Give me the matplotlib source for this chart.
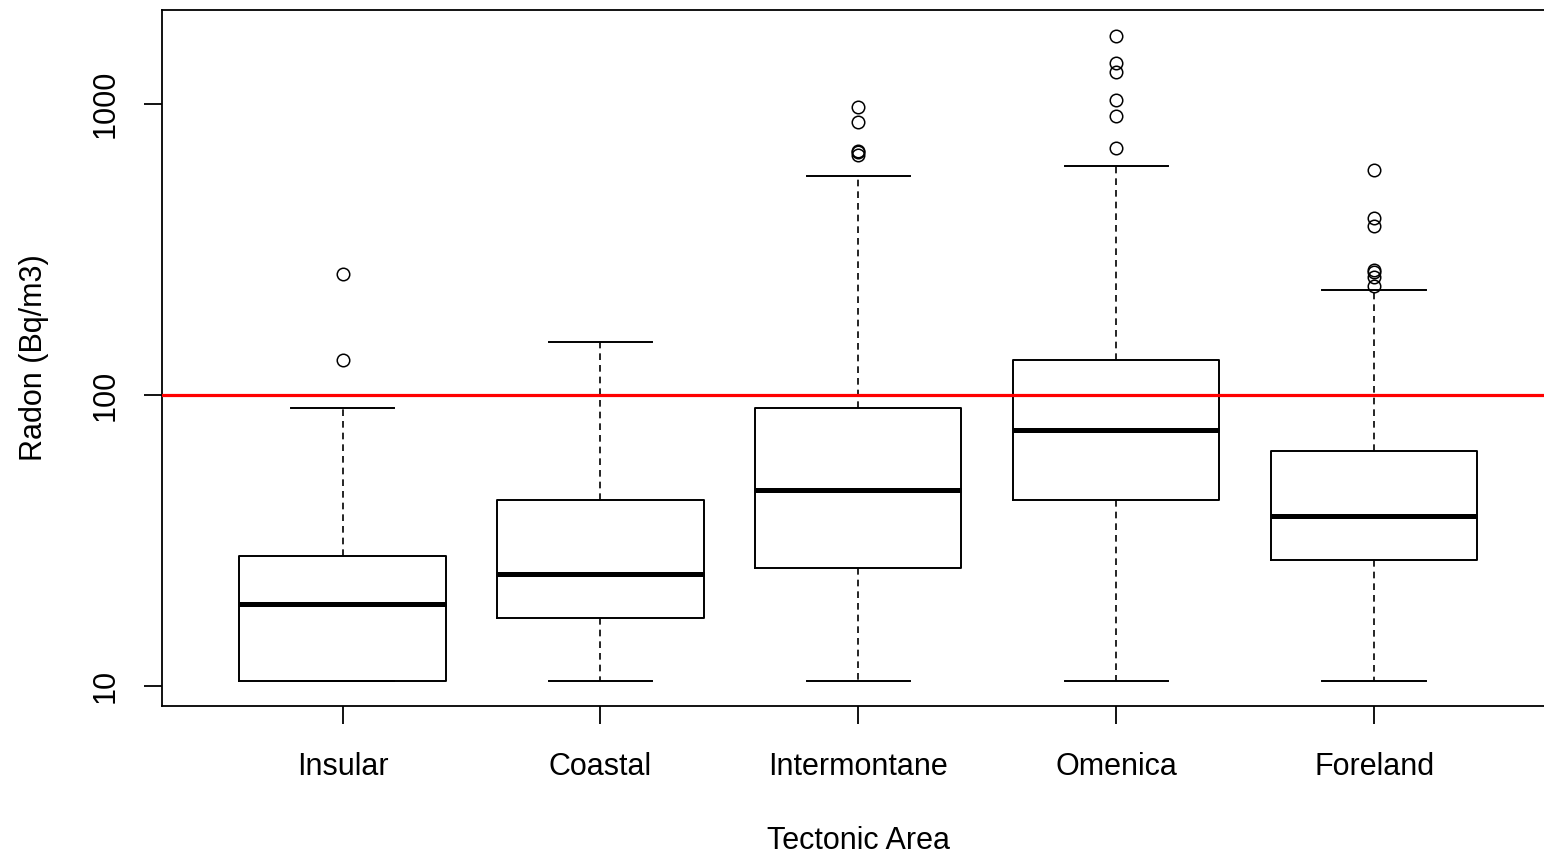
import matplotlib.pyplot as plt
import numpy as np

plt.rcParams['font.family'] = ['Liberation Sans', 'DejaVu Sans']

# Radon boxplot stats (Bq/m3)
areas = ["Insular", "Coastal", "Intermontane", "Omenica", "Foreland"]
whislo = [10.4, 10.4, 10.4, 10.4, 10.4]
q1 = [10.4, 17.1, 25.4, 43.5, 27.1]
med = [19.1, 24.3, 47.2, 75.8, 38.4]
q3 = [28.0, 43.5, 90.2, 132, 64.3]
whishi = [90.2, 152, 566, 612, 229]
outliers = [
    [132, 260],
    [],
    [668, 684, 690, 868, 977],
    [706, 910, 1032, 1288, 1384, 1713],
    [237, 255, 265, 269, 381, 405, 593],
]
guideline = 100

stats = []
for i, name in enumerate(areas):
    stats.append(dict(label=name, whislo=whislo[i], q1=q1[i], med=med[i],
                      q3=q3[i], whishi=whishi[i], fliers=outliers[i]))

fig = plt.figure(figsize=(15.44, 8.56), dpi=100)
ax = fig.add_axes([162 / 1544, 1 - 706 / 856, (1554.6 - 162) / 1544, (706 - 10) / 856])

ax.bxp(stats, positions=np.arange(1, 6), widths=0.8, capwidths=0.4,
       boxprops=dict(color="black", linewidth=1.4),
       medianprops=dict(color="black", linewidth=3.6, solid_capstyle="butt"),
       whiskerprops=dict(color="black", linewidth=1.2, linestyle=(0, (4, 3))),
       capprops=dict(color="black", linewidth=1.4),
       flierprops=dict(marker="o", markerfacecolor="none", markeredgecolor="black",
                       markersize=9, markeredgewidth=1.1))

ax.axhline(guideline, color="red", linewidth=2.3, zorder=5)

ax.set_yscale("log")
ax.set_ylim(10 ** 0.931, 10 ** 3.323)
ax.set_xlim(0.3, 5.7)
ax.set_yticks([10, 100, 1000])
ax.set_yticklabels(["10", "100", "1000"], rotation=90, va="center")
ax.minorticks_off()
ax.set_xticks(np.arange(1, 6))
ax.set_xticklabels(areas)

for s in ax.spines.values():
    s.set_linewidth(1.3)
ax.tick_params(axis="both", length=13, width=1.3, labelsize=22, pad=17)
ax.tick_params(axis="x", pad=20)

ax.set_xlabel("Tectonic Area", fontsize=22, labelpad=32)
ax.set_ylabel("Radon (Bq/m3)", fontsize=22, labelpad=30)

fig.savefig("out.png", dpi=100)
